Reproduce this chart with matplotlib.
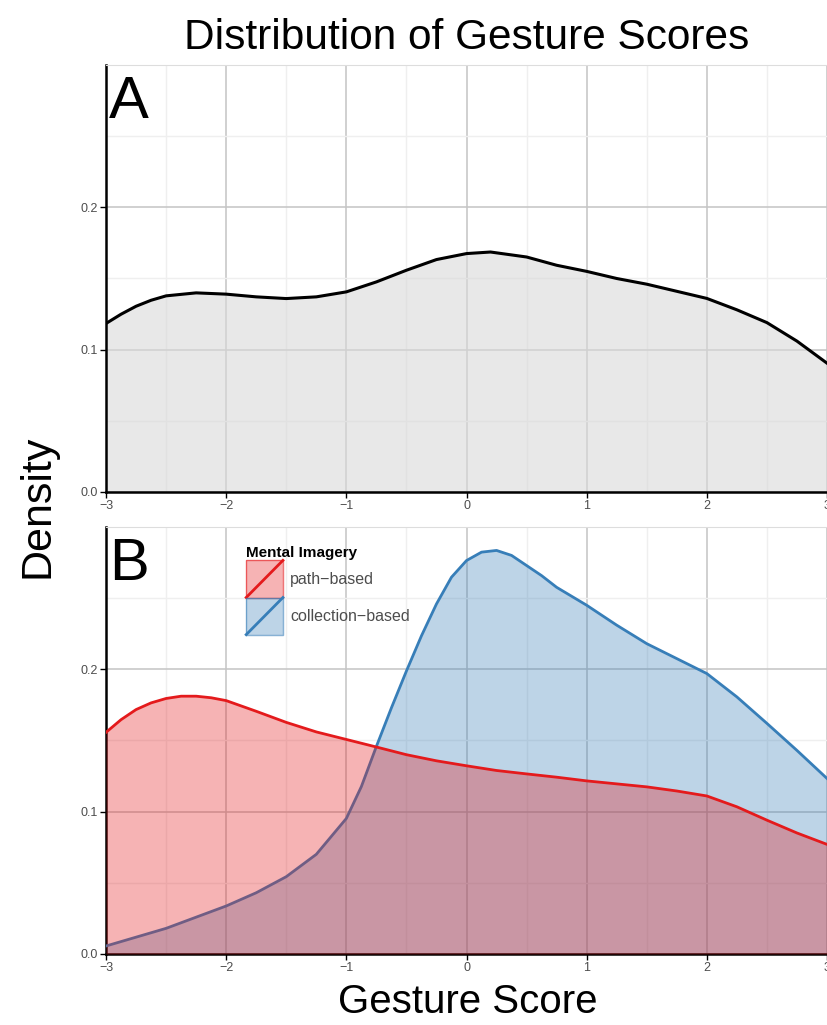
import numpy as np
import matplotlib
matplotlib.use("Agg")
import matplotlib.pyplot as plt
from matplotlib.patches import Rectangle
from matplotlib.lines import Line2D
from matplotlib.legend_handler import HandlerBase

# density values
x_all = [-3, -2.875, -2.75, -2.625, -2.5, -2.25, -2, -1.75, -1.5, -1.25, -1,
         -0.75, -0.5, -0.25, 0, 0.2, 0.5, 0.75, 1, 1.25, 1.5, 1.75, 2, 2.25,
         2.5, 2.75, 3]
dens_all = [0.1184, 0.1249, 0.1305, 0.1347, 0.1378, 0.1399, 0.139, 0.1371,
            0.1359, 0.1371, 0.1406, 0.1476, 0.1558, 0.1633, 0.1675, 0.1686,
            0.1651, 0.1593, 0.155, 0.150, 0.146, 0.141, 0.136, 0.128, 0.119,
            0.106, 0.0905]

x_path = [-3, -2.875, -2.75, -2.625, -2.5, -2.375, -2.25, -2.125, -2, -1.75,
          -1.5, -1.25, -1, -0.75, -0.5, -0.25, 0, 0.25, 0.5, 0.75, 1, 1.25,
          1.5, 1.75, 2, 2.25, 2.5, 2.75, 3]
dens_path = [0.1557, 0.1646, 0.1717, 0.1764, 0.1795, 0.1811, 0.1811, 0.180,
             0.178, 0.1705, 0.1627, 0.156, 0.1507, 0.1454, 0.140, 0.1357,
             0.1322, 0.1289, 0.1265, 0.1242, 0.1216, 0.1195, 0.1174, 0.1145,
             0.111, 0.1034, 0.094, 0.085, 0.077]

x_coll = [-3, -2.5, -2, -1.75, -1.5, -1.25, -1, -0.875, -0.75, -0.625, -0.5,
          -0.375, -0.25, -0.125, 0, 0.125, 0.25, 0.375, 0.5, 0.625, 0.75, 1,
          1.25, 1.5, 1.75, 2, 2.25, 2.5, 2.75, 3]
dens_coll = [0.0056, 0.018, 0.0337, 0.043, 0.0543, 0.070, 0.0952, 0.1176,
             0.1458, 0.1729, 0.1988, 0.2235, 0.2459, 0.2647, 0.2764, 0.2823,
             0.2835, 0.280, 0.2729, 0.2658, 0.2576, 0.245, 0.231, 0.218,
             0.2075, 0.197, 0.1806, 0.162, 0.143, 0.1233]

groups = ["path\u2212based", "collection\u2212based"]
line_cols = ["#E41A1C", "#377EB8"]

FONT = ["Liberation Sans", "DejaVu Sans"]
plt.rcParams['font.family'] = FONT


class DiagHandler(HandlerBase):
    # filled key with a diagonal stroke, like ggplot's area keys
    def create_artists(self, legend, orig, xd, yd, w, h, fontsize, trans):
        col = orig.get_color()
        r = Rectangle((-xd, -yd), w, h, facecolor=col, alpha=0.33,
                      edgecolor='none', transform=trans)
        e = Rectangle((-xd, -yd), w, h, facecolor='none',
                      edgecolor=col, alpha=0.6, lw=1, transform=trans)
        ln = Line2D([-xd, -xd + w], [-yd, -yd + h], color=col, lw=2,
                    transform=trans)
        return [r, e, ln]


def style(ax):
    ax.set_xlim(-3, 3)
    ax.set_ylim(0, 0.30)
    ax.set_xticks([-3, -2, -1, 0, 1, 2, 3])
    ax.set_xticklabels(["\u22123", "\u22122", "\u22121", "0", "1", "2", "3"])
    ax.set_yticks([0, 0.1, 0.2])
    ax.set_yticklabels(["0.0", "0.1", "0.2"])
    ax.set_xticks(np.arange(-2.5, 3, 1), minor=True)
    ax.set_yticks([0.05, 0.15, 0.25], minor=True)
    ax.grid(True, which='major', color='#c4c4c4', lw=1.1, zorder=0)
    ax.grid(True, which='minor', color='#efefef', lw=1.0, zorder=0)
    ax.set_axisbelow(True)
    ax.tick_params(which='major', direction='out', length=4, width=1,
                   color='black', labelsize=9, labelcolor='#4d4d4d', pad=2)
    ax.tick_params(which='minor', length=0)
    ax.spines['right'].set_visible(False)
    ax.spines['top'].set_color('#dddddd')
    ax.spines['left'].set_linewidth(1.8)
    ax.spines['bottom'].set_linewidth(1.8)


fig = plt.figure(figsize=(8.27, 10.25), dpi=100)
ax1 = fig.add_axes([0.1282, 0.52, 0.8718, 0.4166])
ax2 = fig.add_axes([0.1282, 0.0693, 0.8718, 0.4166])

style(ax1)
ax1.fill_between(x_all, dens_all, 0, color='#d9d9d9', alpha=0.6, lw=0, zorder=2)
ax1.plot(x_all, dens_all, color='black', lw=2.2, zorder=3,
         solid_joinstyle='round')
ax1.text(0.004, 0.876, "A", transform=ax1.transAxes, ha='left', va='baseline',
         fontsize=43)

style(ax2)
ax2.fill_between(x_coll, dens_coll, 0, color=line_cols[1], alpha=0.33, lw=0, zorder=2)
ax2.plot(x_coll, dens_coll, color=line_cols[1], lw=2.0, zorder=3,
         solid_joinstyle='round')
ax2.fill_between(x_path, dens_path, 0, color=line_cols[0], alpha=0.33, lw=0, zorder=4)
ax2.plot(x_path, dens_path, color=line_cols[0], lw=2.0, zorder=5,
         solid_joinstyle='round')
ax2.text(0.004, 0.876, "B", transform=ax2.transAxes, ha='left', va='baseline',
         fontsize=43)

handles = [Line2D([], [], color=c) for c in line_cols]
leg = ax2.legend(handles, groups, title="Mental Imagery",
                 handler_map={Line2D: DiagHandler()},
                 loc='upper left', bbox_to_anchor=(0.190, 0.962),
                 frameon=False, fontsize=11.5, handlelength=2.3, handleheight=3.2,
                 labelspacing=0, handletextpad=0.45, borderpad=0.2,
                 borderaxespad=0, alignment='left',
                 title_fontproperties={'weight': 'bold', 'size': 11})
leg.set_zorder(6)
for t in leg.get_texts():
    t.set_color('#4d4d4d')

fig.text(0.564, 0.963, "Distribution of Gesture Scores", ha='center', va='center',
         fontsize=30.5)
fig.text(0.565, 0.022, "Gesture Score", ha='center', va='center', fontsize=29)
fig.text(0.045, 0.506, "Density", ha='center', va='center', rotation=90,
         fontsize=31)

fig.savefig("out.png", dpi=100)
